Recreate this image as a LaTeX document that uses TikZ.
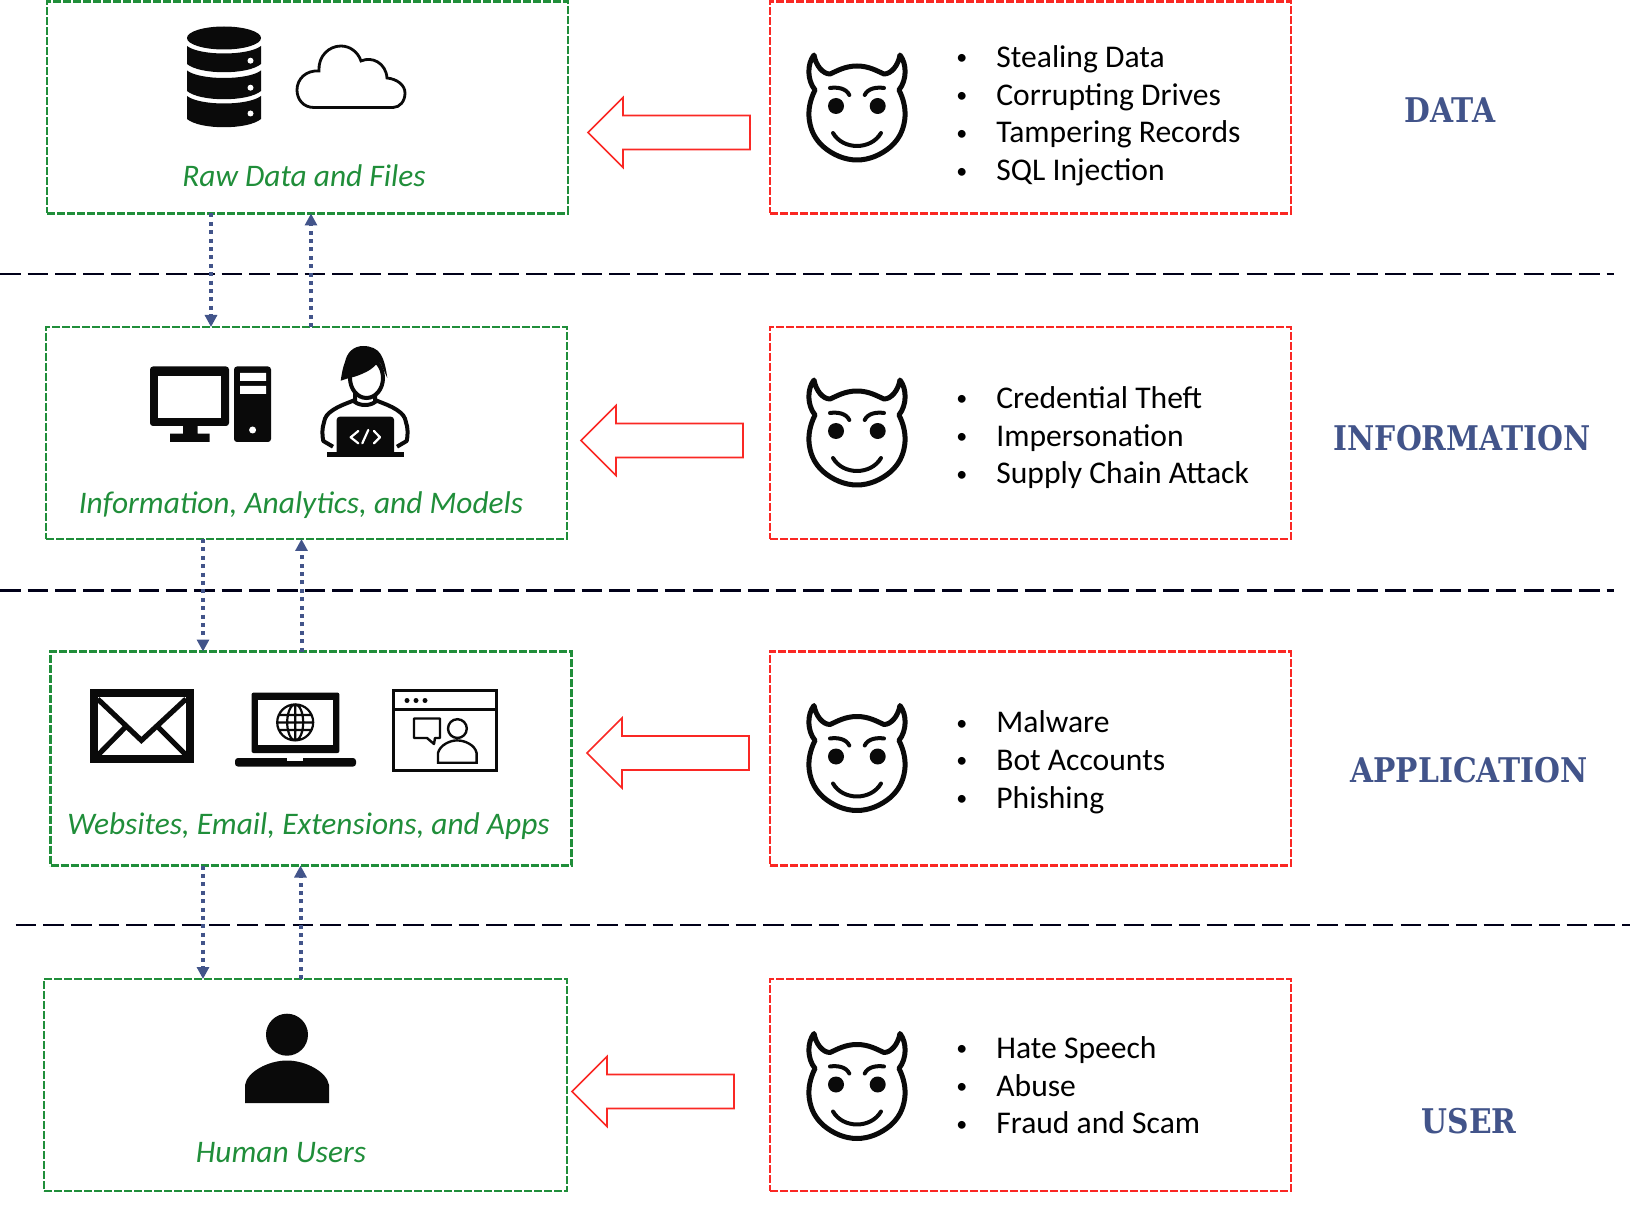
\documentclass[tikz,border=0pt]{standalone}
\usepackage{fontspec}
\setmainfont{Carlito}
\newfontfamily\layerfont[FakeStretch=0.875]{DejaVu Serif}
\usetikzlibrary{arrows.meta}

\definecolor{boxgreen}{RGB}{32,142,58}
\definecolor{boxred}{RGB}{250,40,36}
\definecolor{flowblue}{RGB}{66,84,138}
\definecolor{iconblack}{RGB}{10,10,10}

\newcommand{\listdot}{\raisebox{1.3pt}{\fontsize{11}{11}\selectfont\textbullet}}

\tikzset{
	greenbox/.style = {draw=boxgreen, line width=1.35pt, dash pattern=on 4pt off 1pt, minimum width=260.5pt, minimum height=106pt, inner sep=0, outer sep=0, anchor=north west},
	redbox/.style = {greenbox, draw=boxred},
	boxlabel/.style = {text=boxgreen, font=\fontsize{15.7}{18}\selectfont\itshape, inner sep=0},
	threats/.style = {anchor=west, inner sep=0, font=\fontsize{15.8}{18.9}\selectfont},
	layername/.style = {text=flowblue, font=\layerfont\bfseries\fontsize{17}{20}\selectfont, inner sep=0},
	separator/.style = {draw=black!90!blue, line width=1.3pt, dash pattern=on 10.3pt off 3.55pt},
	flow/.style = {draw=flowblue, line width=2pt, dash pattern=on 2pt off 2.2pt, -{Triangle[length=6pt,width=6pt]}},
	blockarrow/.pic = {
		\draw[boxred, line width=0.8pt, fill=white] (0,0) -- (35,-35) -- (35,-17) -- (162,-17) -- (162,17) -- (35,17) -- (35,35) -- cycle;
	},
	devil/.pic = {
		\draw[iconblack, line width=2.5pt, line join=round] (-43,-53) .. controls (-50,-44) and (-50,-28) .. (-42,-18)
			.. controls (-47,-8) and (-49,2) .. (-47.7,12) .. controls (-46,24) and (-41,32) .. (-33.7,38.7)
			.. controls (-24,47) and (-12,52) .. (0,52) .. controls (12,52) and (24,47) .. (33.7,38.7)
			.. controls (41,32) and (46,24) .. (47.7,12) .. controls (49,2) and (47,-8) .. (42,-18)
			.. controls (50,-28) and (50,-44) .. (43,-53) .. controls (41,-42) and (34,-34) .. (27,-34)
			.. controls (20,-37) and (12,-42) .. (0,-42) .. controls (-12,-42) and (-20,-37) .. (-27,-34)
			.. controls (-34,-34) and (-41,-42) .. (-43,-53) -- cycle;
		\fill[iconblack] (-21,-2) circle (8) (20.7,-2) circle (8);
		\draw[iconblack, line width=2pt, line cap=round] (-27,-20) .. controls (-20,-21) and (-11,-20) .. (-7.7,-13);
		\draw[iconblack, line width=2pt, line cap=round] (27,-20) .. controls (20,-21) and (11,-20) .. (7.7,-13);
		\draw[iconblack, line width=2pt, line cap=round] (-24,25) .. controls (-14,42.3) and (14,42.3) .. (24,25);
	}
}

\begin{document}
\begin{tikzpicture}[x=0.5pt, y=-0.5pt]
	\useasboundingbox (0,0) rectangle (1630,1225);

	% layer separators
	\coordinate (sepaleft) at (0,274);
	\coordinate (separight) at (1614,274);
	\coordinate (sepbleft) at (0,590.5);
	\coordinate (sepbright) at (1614,590.5);
	\coordinate (sepcleft) at (15.5,925);
	\coordinate (sepcright) at (1630,925);
	\draw[separator] (sepaleft) -- (separight);
	\draw[separator] (sepbleft) -- (sepbright);
	\draw[separator] (sepcleft) -- (sepcright);

	% left column
	\node (databox) [greenbox] at (47,1.5) {};
	\node (infobox) [greenbox] at (46,327) {};
	\node (appbox) [greenbox, minimum height=107pt] at (50.5,651.5) {};
	\node (userbox) [greenbox, minimum width=261.5pt] at (44,979) {};

	\node (rawlabel) [boxlabel] at (304,176) {Raw Data and Files};
	\node (infolabel) [boxlabel] at (301,505) {Information, Analytics, and Models};
	\node (applabel) [boxlabel] at (308.5,826) {Websites, Email, Extensions, and Apps};
	\node (userlabel) [boxlabel] at (281,1153) {Human Users};

	% right column
	\node (dataattack) [redbox] at (770,1.5) {};
	\node (infoattack) [redbox] at (770,327) {};
	\node (appattack) [redbox, minimum height=107pt] at (770,651.5) {};
	\node (userattack) [redbox] at (770,979) {};

	\pic at (857,108) {devil};
	\pic at (857,433) {devil};
	\pic at (857,758.5) {devil};
	\pic at (857,1086.5) {devil};

	\node (datalist) [threats] at (956,116.5) {\begin{tabular}{@{}l@{\hspace{14.5pt}}l@{}}
		\listdot & Stealing Data\\ \listdot & Corrupting Drives\\ \listdot & Tampering Records\\ \listdot & SQL Injection
	\end{tabular}};
	\node (infolist) [threats] at (956,438.5) {\begin{tabular}{@{}l@{\hspace{14.5pt}}l@{}}
		\listdot & Credential Theft\\ \listdot & Impersonation\\ \listdot & Supply Chain Attack
	\end{tabular}};
	\node (applist) [threats] at (956,763) {\begin{tabular}{@{}l@{\hspace{14.5pt}}l@{}}
		\listdot & Malware\\ \listdot & Bot Accounts\\ \listdot & Phishing
	\end{tabular}};
	\node (userlist) [threats] at (956,1088.5) {\begin{tabular}{@{}l@{\hspace{14.5pt}}l@{}}
		\listdot & Hate Speech\\ \listdot & Abuse\\ \listdot & Fraud and Scam
	\end{tabular}};

	\node (datalayer) [layername] at (1450,110.5) {DATA};
	\node (infolayer) [layername] at (1462,438) {INFORMATION};
	\node (applayer) [layername] at (1469,770.5) {APPLICATION};
	\node (userlayer) [layername] at (1469,1121) {USER};

	% attacks
	\pic at (588,132.5) {blockarrow};
	\pic at (581,440.5) {blockarrow};
	\pic at (587,753) {blockarrow};
	\pic at (572,1091.5) {blockarrow};

	% flows between the layers
	\draw[flow] (databox.south -| 211,0) -- (infobox.north -| 211,0);
	\draw[flow] (infobox.north -| 311,0) -- (databox.south -| 311,0);
	\draw[flow] (infobox.south -| 203,0) -- (appbox.north -| 203,0);
	\draw[flow] (appbox.north -| 301.5,0) -- (infobox.south -| 301.5,0);
	\draw[flow] (appbox.south -| 203,0) -- (userbox.north -| 203,0);
	\draw[flow] (userbox.north -| 300.5,0) -- (appbox.south -| 300.5,0);

	% database
	\fill[iconblack] (224,38) ellipse (37 and 11.5);
	\foreach \t/\b in {46/64, 70.5/91, 96/119}
		\fill[iconblack] (187,\t) .. controls (200,\t+10) and (248,\t+10) .. (261,\t) -- (261,\b) .. controls (248,\b+11) and (200,\b+11) .. (187,\b) -- cycle;
	\fill[white] (250.5,60.7) circle (3) (250.5,87.7) circle (3) (250.5,113.5) circle (3);

	% cloud
	\draw[iconblack, line width=1.4pt] (314,107.5) .. controls (303,107.5) and (297,99) .. (297,90) .. controls (297,79) and (306,70) .. (319,71)
		.. controls (318,56) and (329,46) .. (341,46) .. controls (350,46) and (358,52) .. (361,61) .. controls (372,56) and (386,63) .. (387,78)
		.. controls (397,79) and (405,85) .. (405,93) .. controls (405,101) and (400,107.5) .. (393,107.5) -- cycle;

	% computer
	\fill[iconblack, rounded corners=1.5pt] (150,366.5) rectangle (229,426);
	\fill[white] (158,375.7) rectangle (221.4,418);
	\fill[iconblack] (183,426) rectangle (197.5,434) (170,433.6) rectangle (209.5,442);
	\fill[iconblack, rounded corners=1.5pt] (234,366.5) rectangle (271,442);
	\fill[white] (240,373) rectangle (266,381) (240,386) rectangle (266,394) (252.6,430) circle (3.5);

	% developer
	\draw[iconblack, line width=2pt, line join=round] (355,400) .. controls (345,404) and (339,406) .. (333,410) .. controls (327,414) and (325,417) .. (324,422.3)
		.. controls (322,428) and (322,435) .. (323.3,441) -- (333,446.7);
	\draw[iconblack, line width=2pt, line join=round] (375,400) .. controls (385,404) and (391,406) .. (397,410) .. controls (403,414) and (405,417) .. (406,422.3)
		.. controls (408,428) and (408,435) .. (406.7,441) -- (397,446.7);
	\draw[iconblack, line width=2pt] (355,393) -- (355,402) .. controls (360,406) and (370,406) .. (375,402) -- (375,393);
	\draw[iconblack, line width=2pt, fill=white] (366.5,378) ellipse (16.5 and 20);
	\fill[iconblack] (340.7,380.7) .. controls (342,372) and (343,367) .. (345,362) .. controls (347,352) and (354,346) .. (363.3,346)
		.. controls (371,346) and (377,349) .. (380,353.3) .. controls (384,359) and (386,368) .. (387.3,378) -- (381,364) -- (378.3,361.7)
		.. controls (375,366) and (372,369) .. (366.7,371.7) .. controls (360,375) and (355,377) .. (350,377.7) -- cycle;
	\fill[iconblack, rounded corners=1.5pt] (336.7,416.7) rectangle (394,456);
	\fill[iconblack] (327.3,452) rectangle (404,457.5);
	\draw[white, line width=1.1pt, line cap=round, line join=round] (358.3,431) -- (350.7,437.3) -- (358.3,443.3) (362.3,443.3) -- (368.3,430) (374,431) -- (380,437.3) -- (374,443.3);

	% envelope
	\draw[iconblack, line width=4pt] (93.5,693) rectangle (190,758.5);
	\draw[iconblack, line width=2.6pt] (97.7,699) -- (141.4,740.4) -- (186,699) (98,755) -- (125,727.5) (186,755) -- (158.5,727.5);

	% laptop
	\fill[iconblack, rounded corners=1pt] (251.5,692.6) rectangle (339.4,753);
	\fill[white] (258,699.7) rectangle (332.6,745);
	\fill[iconblack, rounded corners=1.5pt] (235,758) rectangle (356,766.6);
	\fill[white] (287.4,758) rectangle (303,760.7);
	\draw[iconblack, line width=1.1pt] (295.2,722.4) circle (18) (295.2,722.4) ellipse (8 and 18) (295.2,704.4) -- (295.2,740.4) (279,715) -- (311.4,715) (277.2,722.4) -- (313.2,722.4) (279,730) -- (311.4,730);

	% browser window
	\draw[iconblack, line width=1.3pt] (393.4,690.5) rectangle (496.4,770.7);
	\draw[iconblack, line width=1.5pt] (393.4,709) -- (496.4,709);
	\fill[iconblack] (407,700.5) circle (2.5) (416,700.5) circle (2.5) (425,700.5) circle (2.5);
	\draw[iconblack, line width=1.2pt, line join=round] (414,718.5) -- (440,718.5) -- (440,738) -- (435,738) -- (434,744) -- (427,738) -- (414,738) -- cycle;
	\draw[iconblack, line width=1.2pt] (457.4,728.6) circle (9.4);
	\draw[iconblack, line width=1.2pt] (438,762.7) -- (438,753) .. controls (440,745) and (450,740.4) .. (457,740.4) .. controls (465,740.4) and (475,745) .. (476.6,753) -- (476.6,762.7) -- cycle;

	% person
	\fill[iconblack] (287,1034.7) circle (21);
	\fill[iconblack] (245,1103) -- (245,1085) .. controls (247,1072) and (268,1060.5) .. (287,1060.5) .. controls (306,1060.5) and (327,1072) .. (329,1085) -- (329,1103) -- cycle;
\end{tikzpicture}
\end{document}
